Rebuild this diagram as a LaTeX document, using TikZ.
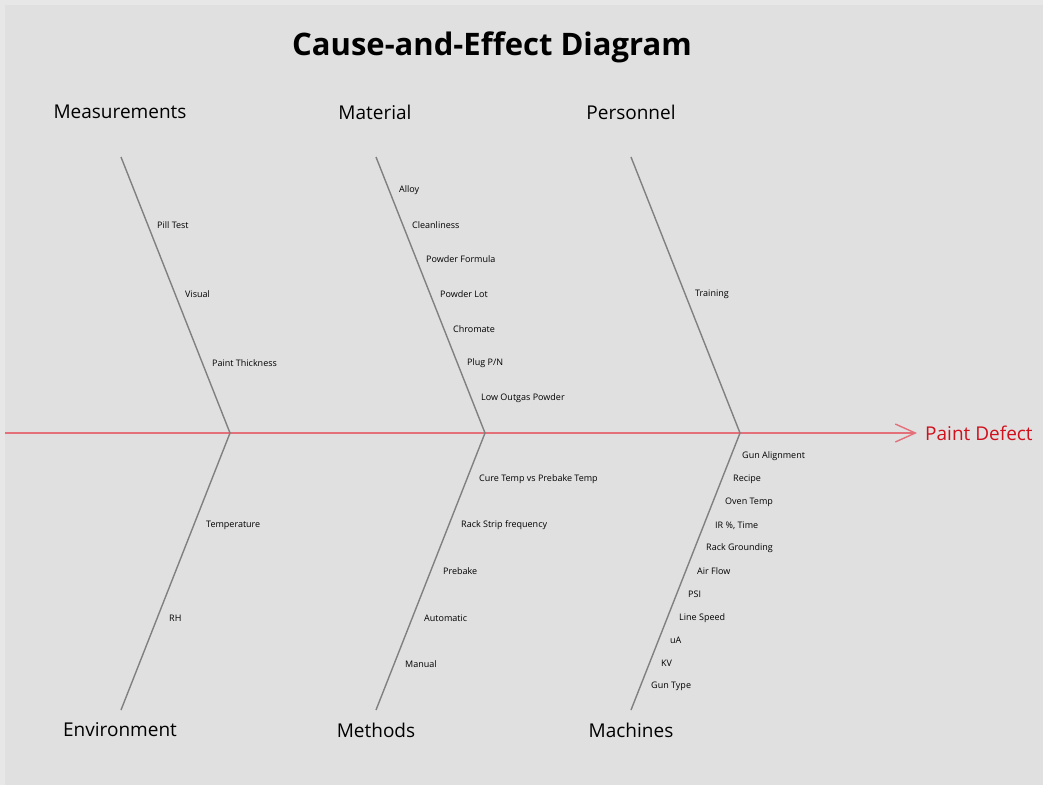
\documentclass[tikz,border=0pt]{standalone}
\usepackage{fontspec}
\setmainfont{Open Sans}
\usepackage{xcolor}
\usepackage{tikz}
\usetikzlibrary{arrows.meta}

\definecolor{bggray}{HTML}{E0E0E0}
\definecolor{edgegray}{HTML}{E7E7E7}
\definecolor{bonegray}{HTML}{808080}
\definecolor{spinered}{HTML}{E4707A}
\definecolor{effectred}{HTML}{D0101C}

\tikzset{
    bone/.style = {draw = bonegray, line width = 1.4pt},
    spine/.style = {draw = spinered, line width = 1.4pt,
        -{Straight Barb[length = 20pt, width = 18pt, line width = 1.4pt]}},
    cause/.style = {anchor = west, inner sep = 0pt, text = black, yshift = -1.5pt,
        font = \fontsize{9}{10}\selectfont},
    category/.style = {inner sep = 0pt, yshift = -1pt, font = \fontsize{19}{22}\selectfont},
}

\begin{document}
\begin{tikzpicture}[x = 1pt, y = -1pt]
        \fill[edgegray] (0, 0) rectangle (1043, 785);
        \fill[bggray] (5, 5) rectangle (1043, 785);
        \useasboundingbox (0, 0) rectangle (1043, 785);

        \node (title) at (492, 47) {\fontsize{31}{35}\selectfont\bfseries Cause-and-Effect Diagram};

        % spine and effect
        \coordinate (tail) at (5, 433);
        \node[anchor = west, inner sep = 0pt, text = effectred,
            font = \fontsize{19}{22}\selectfont] (effect) at (925, 433) {Paint Defect};
        \draw[spine] (tail) -- ([xshift = -8pt] effect.west);

        % joints on the spine
        \coordinate (j1) at (230, 433);
        \coordinate (j2) at (485, 433);
        \coordinate (j3) at (740, 433);

        % bone ends
        \coordinate (t1) at (121, 157);
        \coordinate (t2) at (376, 157);
        \coordinate (t3) at (631, 157);
        \coordinate (b1) at (121, 710);
        \coordinate (b2) at (376, 710);
        \coordinate (b3) at (631, 710);

        \draw[bone] (t1) -- (j1) -- (b1);
        \draw[bone] (t2) -- (j2) -- (b2);
        \draw[bone] (t3) -- (j3) -- (b3);

        % categories
        \node[category] (measurements) at (120, 111) {Measurements};
        \node[category] (material) at (375, 111) {Material};
        \node[category] (personnel) at (631, 111) {Personnel};
        \node[category] (environment) at (120, 729) {Environment};
        \node[category] (methods) at (376, 729) {Methods};
        \node[category] (machines) at (631, 729) {Machines};

        % Measurements
        \node[cause] (mea1) at (157, 224) {Pill Test};
        \node[cause] (mea2) at (185, 293) {Visual};
        \node[cause] (mea3) at (212, 362) {Paint Thickness};

        % Material
        \node[cause] (mat1) at (399, 189) {Alloy};
        \node[cause] (mat2) at (412, 224) {Cleanliness};
        \node[cause] (mat3) at (426, 258) {Powder Formula};
        \node[cause] (mat4) at (440, 293) {Powder Lot};
        \node[cause] (mat5) at (453, 328) {Chromate};
        \node[cause] (mat6) at (467, 362) {Plug P/N};
        \node[cause] (mat7) at (481, 397) {Low Outgas Powder};

        % Personnel
        \node[cause] (per1) at (695, 293) {Training};

        % Environment
        \node[cause] (env1) at (206, 524) {Temperature};
        \node[cause] (env2) at (169, 617) {RH};

        % Methods
        \node[cause] (met1) at (479, 478) {Cure Temp vs Prebake Temp};
        \node[cause] (met2) at (461, 524) {Rack Strip frequency};
        \node[cause] (met3) at (443, 570) {Prebake};
        \node[cause] (met4) at (424, 617) {Automatic};
        \node[cause] (met5) at (405, 663) {Manual};

        % Machines
        \node[cause] (mac1) at (742, 455) {Gun Alignment};
        \node[cause] (mac2) at (733, 478) {Recipe};
        \node[cause] (mac3) at (725, 501) {Oven Temp};
        \node[cause] (mac4) at (715, 524) {IR \%, Time};
        \node[cause] (mac5) at (706, 547) {Rack Grounding};
        \node[cause] (mac6) at (697, 570) {Air Flow};
        \node[cause] (mac7) at (688, 593) {PSI};
        \node[cause] (mac8) at (679, 617) {Line Speed};
        \node[cause] (mac9) at (670, 639) {uA};
        \node[cause] (mac10) at (661, 662) {KV};
        \node[cause] (mac11) at (651, 685) {Gun Type};
    \end{tikzpicture}
\end{document}
